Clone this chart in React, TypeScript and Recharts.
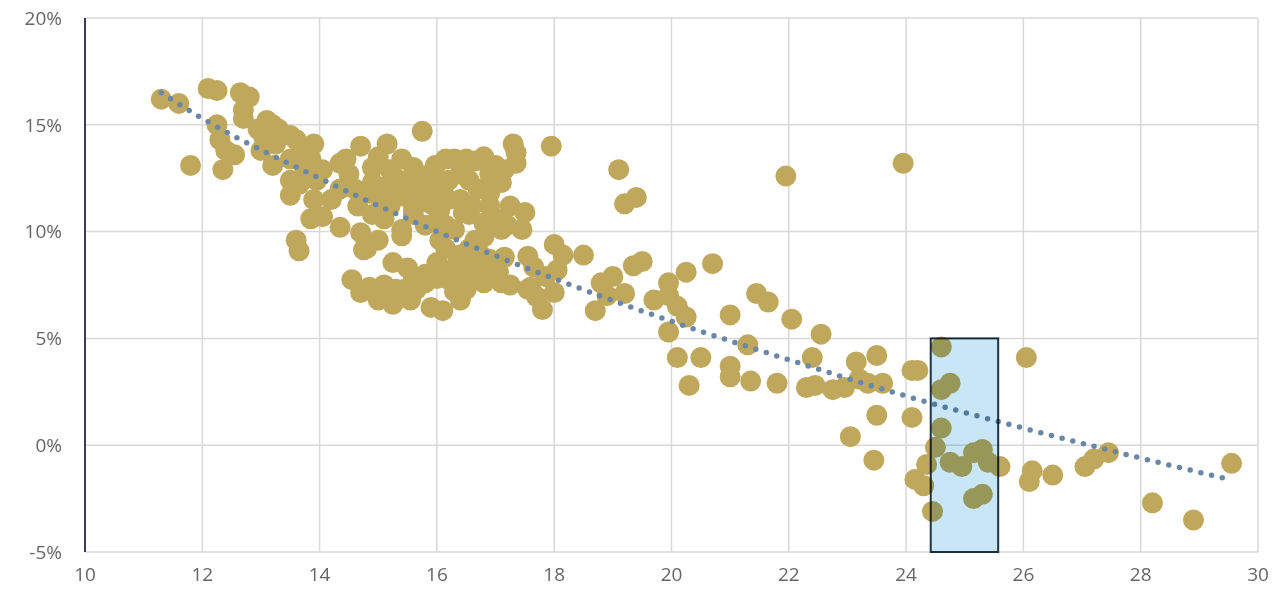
import {
  ScatterChart,
  Scatter,
  XAxis,
  YAxis,
  CartesianGrid,
  ReferenceArea,
} from 'recharts';

// [x, return %] pairs, grouped by where they sit on the plot
const leftGroup: [number, number][] = [
  [11.3, 16.2], [11.6, 16.0], [11.8, 13.1], [12.1, 16.7], [12.25, 16.6], [12.25, 15.0],
  [12.3, 14.3], [12.4, 13.8], [12.35, 12.9], [12.55, 13.6], [12.65, 16.5], [12.8, 16.3],
  [12.7, 15.7], [12.7, 15.3], [12.95, 14.8], [13.0, 13.8], [13.1, 15.2], [13.2, 15.0],
  [13.3, 14.8], [13.5, 14.5], [13.6, 14.3], [13.25, 14.1], [13.05, 14.4], [13.2, 13.1],
  [13.5, 13.4], [13.65, 13.6], [13.85, 13.4], [13.9, 14.1], [13.75, 12.9], [13.5, 12.4],
  [13.5, 11.7], [13.65, 12.2], [13.95, 12.4], [14.05, 12.9], [13.6, 9.6], [13.65, 9.1],
  [13.85, 10.6], [14.05, 10.7], [13.9, 11.5],
];

const midGroup: [number, number][] = [
  [14.35, 10.2], [14.2, 11.5], [14.35, 12.0], [14.35, 13.2], [14.45, 13.4], [14.5, 12.7],
  [14.6, 12.0], [14.65, 11.2], [14.85, 11.8], [14.7, 9.95], [14.9, 12.3], [14.9, 13.0],
  [15.0, 13.2], [14.7, 14.0], [15.0, 13.5], [15.15, 14.1], [15.4, 13.4], [15.2, 12.9],
  [15.1, 12.1], [15.3, 11.6], [15.05, 11.2], [15.1, 10.6], [15.4, 9.8], [15.0, 9.6],
  [14.8, 9.2], [15.4, 12.1], [15.6, 13.0], [15.55, 11.5], [15.7, 12.0], [15.75, 14.7],
  [15.6, 10.8], [15.4, 10.1], [15.3, 12.5], [15.5, 12.3], [15.8, 12.6], [15.9, 12.2],
  [15.6, 11.0], [15.8, 11.5], [14.9, 10.8], [15.2, 11.2],
];

const upperCluster: [number, number][] = [
  [15.97, 13.1], [16.15, 13.4], [16.3, 13.4], [16.5, 13.4], [16.65, 13.3], [16.8, 13.5],
  [17.0, 13.1], [17.15, 12.9], [16.9, 12.7], [17.3, 14.1], [17.35, 13.7], [17.35, 13.2],
  [16.05, 12.4], [16.2, 12.4], [16.4, 12.7], [16.55, 12.4], [15.9, 11.9], [16.05, 11.7],
  [16.2, 11.5], [16.4, 11.5], [15.9, 11.3], [16.05, 11.0], [15.8, 10.3], [16.0, 10.5],
  [16.15, 10.3], [16.45, 10.9], [16.3, 10.1], [16.55, 10.8], [16.8, 10.4], [16.85, 10.1],
  [17.0, 10.6], [17.1, 10.1], [17.25, 11.2], [17.5, 10.9], [17.45, 10.1], [17.2, 10.3],
  [17.95, 14.0], [16.7, 12.0], [16.9, 11.8], [17.1, 12.3], [16.6, 11.2], [16.9, 11.2],
];

const lowerCluster: [number, number][] = [
  [14.55, 7.75], [14.75, 9.15], [14.7, 7.15], [14.85, 7.4], [15.0, 6.8], [15.1, 7.5],
  [15.25, 6.6], [15.3, 7.3], [15.25, 8.55], [15.5, 8.3], [15.45, 7.3], [15.65, 7.3],
  [15.55, 6.8], [15.9, 6.45], [16.1, 6.3], [16.2, 7.75], [16.0, 8.55], [16.0, 7.8],
  [16.35, 8.55], [16.45, 7.6], [16.15, 9.2], [16.05, 9.6], [16.3, 7.2], [16.4, 6.8],
  [16.55, 8.5], [16.4, 8.9], [16.55, 9.2], [16.75, 8.9], [16.9, 8.7], [16.8, 7.6],
  [16.75, 8.0], [17.05, 8.1], [17.15, 8.8], [17.25, 7.5], [17.0, 7.8], [16.8, 9.75],
  [16.65, 9.6], [15.8, 8.0], [16.1, 8.1], [16.3, 8.0], [16.6, 7.9], [16.9, 8.2],
  [16.5, 7.3], [17.1, 7.6], [15.8, 7.6], [15.6, 7.8],
];

const centreGroup: [number, number][] = [
  [17.55, 8.85], [17.65, 8.35], [17.6, 7.4], [17.7, 6.95], [17.8, 6.35], [18.0, 7.15],
  [18.05, 8.2], [18.0, 9.4], [18.15, 8.9], [18.5, 8.9], [17.85, 7.9], [17.55, 7.3],
  [19.1, 12.9], [19.2, 11.3], [19.4, 11.6], [18.7, 6.3], [18.8, 7.6], [19.0, 7.9],
  [18.9, 7.0], [19.2, 7.1], [19.35, 8.4], [19.5, 8.6], [19.7, 6.8], [19.95, 7.6],
  [19.95, 7.0], [20.1, 6.5], [20.25, 6.0], [20.25, 8.1], [20.7, 8.5], [19.95, 5.3],
  [20.1, 4.1], [20.5, 4.1], [20.3, 2.8], [21.0, 6.1], [21.0, 3.7], [21.0, 3.2],
  [21.3, 4.7], [21.35, 3.0], [21.45, 7.1], [21.65, 6.7], [21.8, 2.9],
];

const rightGroup: [number, number][] = [
  [22.05, 5.9], [21.95, 12.6], [22.55, 5.2], [22.4, 4.1], [22.3, 2.7], [22.45, 2.8],
  [22.75, 2.6], [22.95, 2.7], [23.15, 3.9], [23.2, 3.1], [23.35, 2.9], [23.5, 4.2],
  [23.05, 0.4], [23.5, 1.4], [23.45, -0.7], [23.6, 2.9], [23.95, 13.2], [24.1, 3.5],
  [24.2, 3.5], [24.1, 1.3], [24.15, -1.6], [24.3, -1.9], [24.35, -0.9], [24.5, -0.1],
  [24.45, -3.1], [24.6, 4.6], [24.6, 2.6], [24.75, 2.9], [24.6, 0.8], [24.75, -0.8],
  [24.95, -1.0], [25.15, -0.35], [25.3, -0.2], [25.4, -0.8], [25.6, -1.0], [25.15, -2.5],
  [25.3, -2.3], [26.05, 4.1], [26.1, -1.7], [26.15, -1.2], [26.5, -1.4], [27.05, -1.0],
  [27.2, -0.65], [27.45, -0.35], [28.2, -2.7], [28.9, -3.5], [29.55, -0.85],
];

// dotted trend curve
const trendPoints: [number, number][] = [
  [11.3, 16.5], [12, 15.3], [14, 12.5], [16, 10.0], [18, 7.8], [20, 5.8],
  [22, 4.0], [24, 2.3], [26, 0.8], [28, -0.6], [29.5, -1.6],
];

const xTicks = [10, 12, 14, 16, 18, 20, 22, 24, 26, 28, 30];
const yTicks = [-5, 0, 5, 10, 15, 20];

// highlighted band
const bandX = [24.42, 25.57];
const bandY = [-5, 5];

const toRows = (pairs: [number, number][]) => pairs.map(([x, y]) => ({ x, y }));

const points = toRows([
  ...leftGroup,
  ...midGroup,
  ...upperCluster,
  ...lowerCluster,
  ...centreGroup,
  ...rightGroup,
]);
const trend = toRows(trendPoints);

const tickStyle = { fill: '#666666', fontSize: 19, fontFamily: 'Open Sans, sans-serif' };

const Dot = (props: any) => (
  <circle cx={props.cx} cy={props.cy} r={10.5} fill="#BFA85C" />
);

const Band = (props: any) => (
  <rect
    x={props.x}
    y={props.y}
    width={props.width}
    height={props.height}
    fill="#C8E6F6"
    stroke="#1E3446"
    strokeWidth={2}
    style={{ mixBlendMode: 'multiply' }}
  />
);

export default function App() {
  return (
    <div style={{ position: 'absolute', left: 0, top: 0, background: '#fff' }}>
      <ScatterChart
        width={1276}
        height={600}
        margin={{ top: 18, right: 18, left: 15, bottom: 8 }}
      >
        <CartesianGrid stroke="#D9D9D9" strokeWidth={1.5} />
        <XAxis
          type="number"
          dataKey="x"
          domain={[10, 30]}
          ticks={xTicks}
          axisLine={false}
          tickLine={false}
          tick={tickStyle}
          tickMargin={10}
          height={40}
        />
        <YAxis
          type="number"
          dataKey="y"
          domain={[-5, 20]}
          ticks={yTicks}
          tickFormatter={(v) => `${v}%`}
          axisLine={{ stroke: '#3E3A55', strokeWidth: 2 }}
          tickLine={false}
          tick={tickStyle}
          tickMargin={17}
          width={70}
        />
        <Scatter data={points} shape={Dot} isAnimationActive={false} />
        <Scatter
          data={trend}
          shape={() => <g />}
          line={{
            stroke: '#6A88A6',
            strokeWidth: 5.5,
            strokeDasharray: '0 11',
            strokeLinecap: 'round',
          }}
          lineJointType="monotoneX"
          isAnimationActive={false}
        />
        <ReferenceArea
          x1={bandX[0]}
          x2={bandX[1]}
          y1={bandY[0]}
          y2={bandY[1]}
          shape={Band}
          zIndex={700}
        />
      </ScatterChart>
    </div>
  );
}
